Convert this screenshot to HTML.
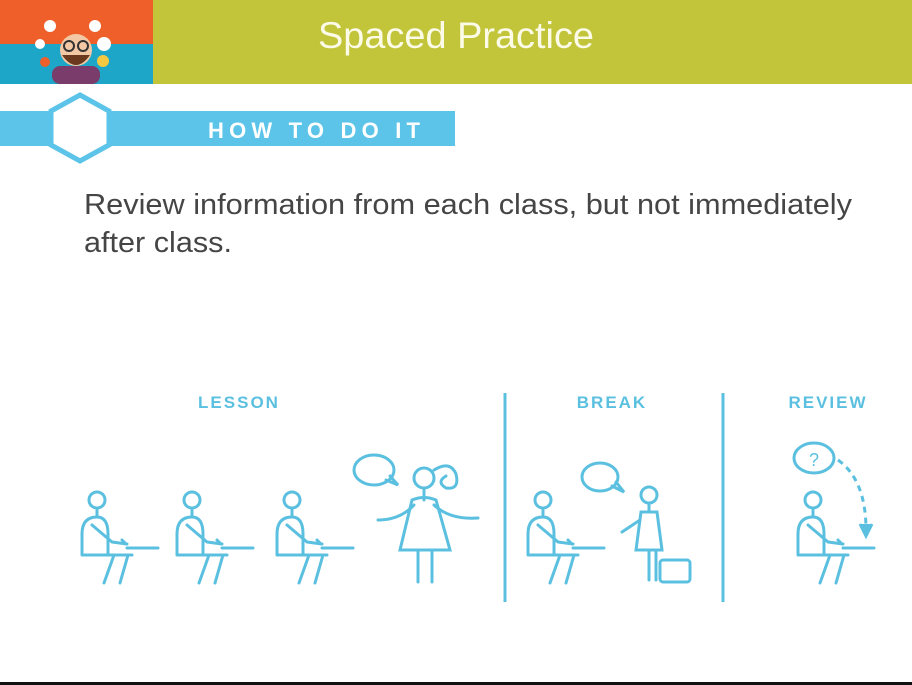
<!DOCTYPE html>
<html><head><meta charset="utf-8"><style>
html,body{margin:0;padding:0;background:#fff;}
#s{position:relative;width:912px;height:685px;overflow:hidden;font-family:"Liberation Sans",sans-serif;}
</style></head><body>
<div id="s">
<svg width="912" height="685" viewBox="0 0 912 685">
<defs>
<g id="sit" fill="none" stroke="#5bc0e0" stroke-width="3" stroke-linecap="round" stroke-linejoin="round">
<circle cx="15" cy="0" r="8"/>
<path d="M15 8 V15"/>
<path d="M0 55 V34 Q0 17 15 17 Q26 17 26 34 V55 Z"/>
<path d="M26 55 H50"/>
<path d="M10 25 L30 42 L45 44 M40 40 L44 44"/>
<path d="M45 48 H76"/>
<path d="M32 55 L22 83 M46 55 L38 83"/>
</g>
</defs>
<rect x="153" y="0" width="759" height="84" fill="#c2c43a"/>
<rect x="0" y="0" width="153" height="44" fill="#ee5f2a"/>
<rect x="0" y="44" width="153" height="40" fill="#1ea6c8"/>
<g>
<rect x="52" y="66" width="48" height="18" rx="8" fill="#7a3c6a"/>
<circle cx="76" cy="50" r="16" fill="#f2c9a4"/>
<path d="M62 55 Q76 75 90 55 Z" fill="#6b3a1e"/>
<circle cx="69" cy="46" r="5" fill="none" stroke="#333" stroke-width="2"/>
<circle cx="83" cy="46" r="5" fill="none" stroke="#333" stroke-width="2"/>
<circle cx="50" cy="26" r="6" fill="#fff"/><circle cx="95" cy="26" r="6" fill="#fff"/>
<circle cx="104" cy="44" r="7" fill="#fff"/><circle cx="103" cy="61" r="6" fill="#f5c842"/>
<circle cx="40" cy="44" r="5" fill="#fff"/><circle cx="45" cy="62" r="5" fill="#ee5f2a"/>
</g>
<text x="318" y="48" font-size="37" fill="#fbfbe8" textLength="276" lengthAdjust="spacingAndGlyphs">Spaced Practice</text>
<rect x="0" y="111" width="455" height="35" fill="#5bc4e8"/>
<polygon points="80,95 109,111 109,145 80,161 51,145 51,111" fill="#fff" stroke="#5bc4e8" stroke-width="5"/>
<text x="208" y="138" font-size="22" font-weight="bold" fill="#fff" textLength="212">HOW TO DO IT</text>
<text x="84" y="214" font-size="29" fill="#454545" textLength="768" lengthAdjust="spacingAndGlyphs">Review information from each class, but not immediately</text>
<text x="84" y="252" font-size="29" fill="#454545" textLength="148" lengthAdjust="spacingAndGlyphs">after class.</text>
<g font-size="17" font-weight="bold" fill="#5bc0e0" letter-spacing="2">
<text x="239" y="408" text-anchor="middle">LESSON</text>
<text x="612" y="408" text-anchor="middle">BREAK</text>
<text x="828" y="408" text-anchor="middle">REVIEW</text>
</g>
<g stroke="#5bc0e0" stroke-width="3">
<line x1="505" y1="393" x2="505" y2="602"/><line x1="723" y1="393" x2="723" y2="602"/>
</g>
<use href="#sit" x="82" y="500"/>
<use href="#sit" x="177" y="500"/>
<use href="#sit" x="277" y="500"/>
<use href="#sit" x="528" y="500"/>
<use href="#sit" x="798" y="500"/>
<g fill="none" stroke="#5bc0e0" stroke-width="3" stroke-linecap="round">
<circle cx="424" cy="478" r="10"/>
<path d="M424 488 V500 M412 500 Q424 495 436 500 L450 550 H400 L412 500 Z"/>
<path d="M378 520 Q400 520 414 505 M434 505 Q450 520 478 518"/>
<path d="M418 550 V582 M432 550 V582"/>
<path d="M434 470 Q450 460 456 474 Q460 490 446 488 Q436 482 446 476"/>
<ellipse cx="374" cy="470" rx="20" ry="15"/><path d="M386 480 L398 485 L390 476"/>
</g>
<g fill="none" stroke="#5bc0e0" stroke-width="3" stroke-linecap="round">
<ellipse cx="600" cy="477" rx="18" ry="14"/><path d="M612 486 L624 492 L616 482"/>
<circle cx="649" cy="495" r="8"/><path d="M649 503 V512 M641 512 L636 550 H662 L657 512 Z M640 520 L622 532 M649 550 V580 M656 550 V580"/>
<rect x="660" y="560" width="30" height="22" rx="3"/>
</g>
<g fill="none" stroke="#5bc0e0" stroke-width="3">
<ellipse cx="814" cy="458" rx="20" ry="15"/>
<path d="M838 460 Q866 480 866 530" stroke-dasharray="6 5"/>
<path d="M860 524 L866 536 L872 524" fill="#5bc0e0"/>
</g>
<text x="814" y="466" text-anchor="middle" font-size="18" fill="#5bc0e0">?</text>
<rect x="0" y="682" width="912" height="3" fill="#111"/>
</svg>
</div>
</body></html>
